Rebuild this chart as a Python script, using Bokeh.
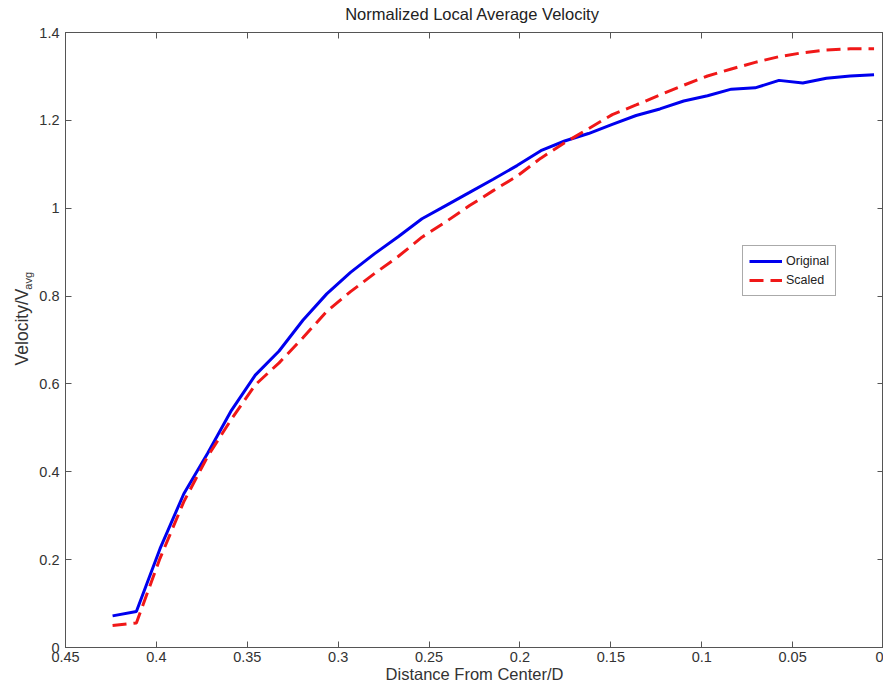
from bokeh.plotting import figure
from bokeh.models import Range1d, LinearAxis, FixedTicker
from bokeh.layouts import column, row
from bokeh.core.properties import value
from bokeh.embed import file_html
from bokeh.resources import INLINE
import math

# ---- data ----
distance = [0.4241, 0.4110, 0.3980, 0.3849, 0.3718, 0.3587, 0.3456, 0.3325, 0.3194,
            0.3063, 0.2932, 0.2801, 0.2670, 0.2539, 0.2408, 0.2277, 0.2147, 0.2016,
            0.1885, 0.1754, 0.1623, 0.1492, 0.1361, 0.1230, 0.1099, 0.0968, 0.0837,
            0.0706, 0.0575, 0.0444, 0.0314, 0.0183, 0.0052]
original = [0.072, 0.082, 0.225, 0.350, 0.442, 0.540, 0.620, 0.675, 0.745,
            0.805, 0.854, 0.896, 0.935, 0.976, 1.006, 1.036, 1.066, 1.097,
            1.131, 1.153, 1.170, 1.191, 1.211, 1.226, 1.244, 1.256, 1.271,
            1.274, 1.291, 1.285, 1.296, 1.301, 1.304]
scaled = [0.050, 0.056, 0.203, 0.332, 0.435, 0.520, 0.598, 0.648, 0.705,
          0.765, 0.810, 0.851, 0.890, 0.934, 0.969, 1.006, 1.040, 1.073,
          1.114, 1.149, 1.181, 1.213, 1.235, 1.258, 1.280, 1.301, 1.317,
          1.332, 1.345, 1.354, 1.360, 1.363, 1.363]

x_ticks = [0.45, 0.4, 0.35, 0.3, 0.25, 0.2, 0.15, 0.1, 0.05, 0.0]
x_tick_labels = ["0.45", "0.4", "0.35", "0.3", "0.25", "0.2", "0.15", "0.1", "0.05", "0"]
y_ticks = [0.0, 0.2, 0.4, 0.6, 0.8, 1.0, 1.2, 1.4]
y_tick_labels = ["0", "0.2", "0.4", "0.6", "0.8", "1", "1.2", "1.4"]

title_text = "Normalized Local Average Velocity"
x_label = "Distance From Center/D"
y_label_main = "Velocity/V"
y_label_sub = "avg"
series_names = ["Original", "Scaled"]

FONT = "Liberation Sans"
AXIS_COLOR = "#555555"
TEXT_COLOR = "#333333"

TOTAL_W, TOTAL_H = 883, 686
TITLE_H = 26
LABEL_W = 36
MAIN_H = TOTAL_H - TITLE_H
MAIN_W = TOTAL_W - LABEL_W


def blank_fig(w, h):
    f = figure(width=w, height=h, output_backend="svg", toolbar_location=None,
               x_range=Range1d(0, w), y_range=Range1d(0, h),
               x_axis_type=None, y_axis_type=None, min_border=0)
    f.grid.visible = False
    f.outline_line_color = None
    f.background_fill_color = "white"
    f.border_fill_color = "white"
    return f


# ---- title strip ----
title_fig = blank_fig(TOTAL_W, TITLE_H)
title_fig.text(x=[472], y=[TITLE_H - 13.5], text=[title_text],
               text_font=value(FONT), text_font_size="16.5px",
               text_color="#222222", text_align="center", text_baseline="middle")

# ---- y label strip (with subscript) ----
label_fig = blank_fig(LABEL_W, MAIN_H)
label_fig.text(x=[21.5], y=[MAIN_H - (342 - TITLE_H)], text=[y_label_main],
               angle=math.pi / 2, text_font=value(FONT), text_font_size="17.5px",
               text_color=TEXT_COLOR, text_align="center", text_baseline="alphabetic")
label_fig.text(x=[27.5], y=[MAIN_H - (302 - TITLE_H)], text=[y_label_sub],
               angle=math.pi / 2, text_font=value(FONT), text_font_size="11px",
               text_color=TEXT_COLOR, text_align="left", text_baseline="alphabetic")

# ---- main plot ----
p = figure(width=MAIN_W, height=MAIN_H, output_backend="svg", toolbar_location=None,
           x_range=Range1d(0.45, 0.0), y_range=Range1d(0.0, 1.4),
           min_border_left=63 - LABEL_W, min_border_right=0, min_border_top=32 - TITLE_H,
           min_border_bottom=39)

p.grid.visible = False
p.outline_line_color = AXIS_COLOR
p.outline_line_width = 1
p.background_fill_color = "white"
p.border_fill_color = "white"


def style_axis(ax, ticks, labels=None):
    ax.ticker = FixedTicker(ticks=ticks)
    ax.axis_line_color = AXIS_COLOR
    ax.major_tick_line_color = AXIS_COLOR
    ax.major_tick_in = 6
    ax.major_tick_out = 0
    ax.minor_tick_line_color = None
    if labels is not None:
        ax.major_label_overrides = {t: l for t, l in zip(ticks, labels)}
        ax.major_label_text_font = FONT
        ax.major_label_text_font_size = "14.5px"
        ax.major_label_text_color = TEXT_COLOR
    else:
        ax.major_label_text_font_size = "0px"
        ax.major_label_text_color = None
        ax.major_label_standoff = 0


style_axis(p.xaxis[0], x_ticks, x_tick_labels)
style_axis(p.yaxis[0], y_ticks, y_tick_labels)
p.xaxis[0].major_label_standoff = 4
p.yaxis[0].major_label_standoff = 6
p.xaxis[0].axis_label = x_label
p.xaxis[0].axis_label_text_font = FONT
p.xaxis[0].axis_label_text_font_size = "16.5px"
p.xaxis[0].axis_label_text_font_style = "normal"
p.xaxis[0].axis_label_text_color = TEXT_COLOR
p.xaxis[0].axis_label_standoff = 0

top_axis = LinearAxis()
style_axis(top_axis, x_ticks)
p.add_layout(top_axis, "above")
right_axis = LinearAxis()
style_axis(right_axis, y_ticks)
p.add_layout(right_axis, "right")

p.line(distance, original, line_color="#0000ee", line_width=3,
       legend_label=series_names[0])
p.line(distance, scaled, line_color="#f01818", line_width=3, line_dash="14 7",
       legend_label=series_names[1])

leg = p.legend[0]
leg.location = (677, 351)
leg.label_text_font = FONT
leg.label_text_font_size = "12.5px"
leg.label_text_color = "#222222"
leg.glyph_width = 33
leg.glyph_height = 18
leg.label_height = 18
leg.label_standoff = 4
leg.spacing = 1
leg.padding = 6
leg.margin = 0
leg.border_line_color = AXIS_COLOR
leg.border_line_width = 1
leg.background_fill_color = "white"
leg.background_fill_alpha = 1.0

layout = column(title_fig, row(label_fig, p, spacing=0), spacing=0)

open("out.html", "w").write(file_html(layout, INLINE))
